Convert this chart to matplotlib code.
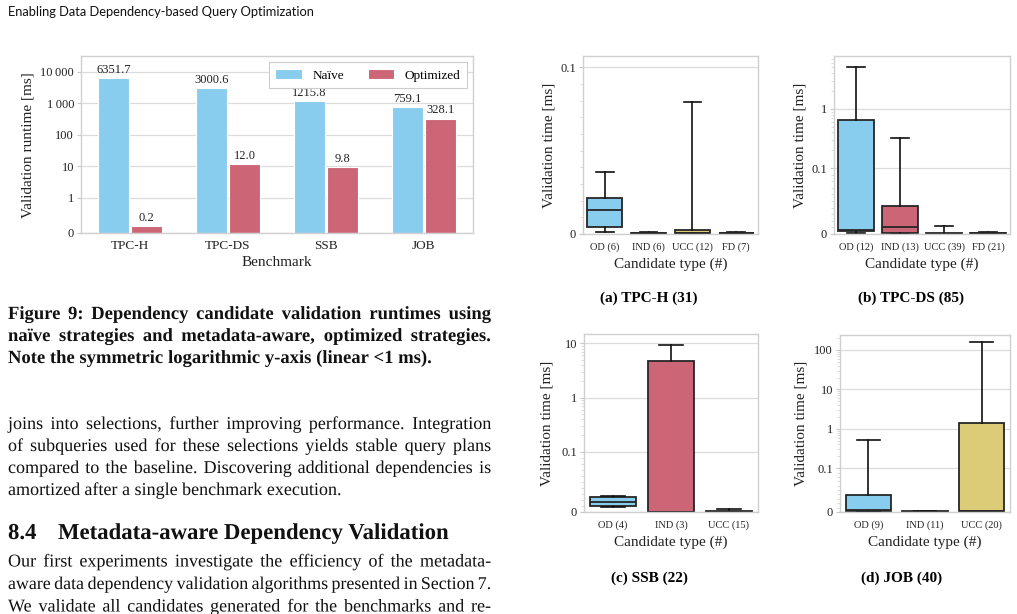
import numpy as np
import matplotlib
matplotlib.use('Agg')
import matplotlib.pyplot as plt
import matplotlib.patheffects as pe
from matplotlib.ticker import FixedLocator, FuncFormatter, NullFormatter

plt.rcParams['font.family'] = ['Liberation Serif', 'DejaVu Serif']

W, H = 1017, 614

# ---------------- data ----------------
benchmarks = ['TPC-H', 'TPC-DS', 'SSB', 'JOB']
naive_ms = [6351.7, 3000.6, 1215.8, 759.1]
optimized_ms = [0.2, 12.0, 9.8, 328.1]

tpch_labels = ['OD (6)', 'IND (6)', 'UCC (12)', 'FD (7)']
tpch_whislo = [0.0014, 0.0001, 0.0002, 0.0002]
tpch_q1 = [0.0042, 0.0002, 0.0004, 0.0003]
tpch_med = [0.0142, 0.0003, 0.0008, 0.0005]
tpch_q3 = [0.0215, 0.0005, 0.0024, 0.0008]
tpch_whishi = [0.0371, 0.0014, 0.0789, 0.0010]

tpcds_labels = ['OD (12)', 'IND (13)', 'UCC (39)', 'FD (21)']
tpcds_whislo = [0.002, 0.0005, 0.0002, 0.0002]
tpcds_q1 = [0.004, 0.001, 0.0004, 0.0004]
tpcds_med = [0.006, 0.011, 0.0006, 0.0008]
tpcds_q3 = [0.65, 0.042, 0.001, 0.0012]
tpcds_whishi = [5.05, 0.32, 0.0117, 0.0035]

ssb_labels = ['OD (4)', 'IND (3)', 'UCC (15)']
ssb_whislo = [0.008, 0.0002, 0.0002]
ssb_q1 = [0.0095, 0.0005, 0.0005]
ssb_med = [0.0173, 0.0007, 0.0007]
ssb_q3 = [0.025, 4.73, 0.001]
ssb_whishi = [0.027, 9.5, 0.0045]

job_labels = ['OD (9)', 'IND (11)', 'UCC (20)']
job_whislo = [0.001, 0.0003, 0.001]
job_q1 = [0.002, 0.0005, 0.002]
job_med = [0.004, 0.0008, 0.003]
job_q3 = [0.038, 0.0012, 1.4]
job_whishi = [0.52, 0.0018, 162.0]

type_colors = {'OD': '#88CCEE', 'IND': '#CC6677', 'UCC': '#DDCC77', 'FD': '#44AA99'}
naive_color = '#88CCEE'
opt_color = '#CC6677'

fig = plt.figure(figsize=(W / 100, H / 100), dpi=100)
fig.patch.set_facecolor('white')


def frac_rect(l, t, r, b):
    return [l / W, 1 - b / H, (r - l) / W, (b - t) / H]


def fx(x):
    return x / W


def fy(y):
    return 1 - y / H


def fmt_tick(v, pos):
    if abs(v) < 1e-12:
        return '0'
    if v >= 1000:
        return f'{int(round(v)):,}'.replace(',', '\u2009')
    if v >= 1:
        return f'{int(round(v))}'
    return f'{v:g}'


def style_axes(ax):
    for s in ax.spines.values():
        s.set_color('#d0d0d0')
        s.set_linewidth(1.0)
    ax.set_axisbelow(True)
    ax.yaxis.grid(True, color='#dcdcdc', linewidth=0.9)
    ax.xaxis.grid(False)
    ax.tick_params(axis='x', length=0)
    ax.tick_params(axis='y', which='major', length=3, color='#c8c8c8', width=0.8)
    ax.tick_params(axis='y', which='minor', length=2, color='#d6d6d6', width=0.6)
    ax.yaxis.set_major_formatter(FuncFormatter(fmt_tick))
    ax.yaxis.set_minor_formatter(NullFormatter())


def minor_symlog(lin, top):
    ticks = list(np.arange(1, 10) * lin / 10)
    dec = lin
    while dec < top:
        ticks += list(np.arange(2, 10) * dec)
        dec *= 10
    return [t for t in ticks if t < top]


# ---------------- bar chart ----------------
ax = fig.add_axes(frac_rect(81, 56, 473, 233))
ax.set_yscale('symlog', linthresh=1, linscale=1)
x = np.arange(len(benchmarks))
bw = 0.32
b1 = ax.bar(x - 0.17, naive_ms, bw, color=naive_color, edgecolor='white', linewidth=0.8, label='Naïve')
b2 = ax.bar(x + 0.17, optimized_ms, bw, color=opt_color, edgecolor='white', linewidth=0.8, label='Optimized')
for bars, vals in ((b1, naive_ms), (b2, optimized_ms)):
    for rect, v in zip(bars, vals):
        ax.annotate(f'{v:.1f}', (rect.get_x() + rect.get_width() / 2, v), xytext=(0, 1.5),
                    textcoords='offset points', ha='center', va='bottom', fontsize=9, color='#222222')
ax.set_xlim(-0.5, 3.5)
ax.set_ylim(0, 31500)
style_axes(ax)
ax.yaxis.set_major_locator(FixedLocator([0, 1, 10, 100, 1000, 10000]))
ax.yaxis.set_minor_locator(FixedLocator([]))
ax.set_xticks(x)
ax.set_xticklabels(benchmarks, fontsize=9.5, color='#222222')
ax.tick_params(axis='y', labelsize=9, labelcolor='#222222', pad=2)
ax.tick_params(axis='x', pad=5)
leg = ax.legend(loc='upper right', ncol=2, fontsize=9.5, frameon=True, fancybox=False,
                edgecolor='#cccccc', framealpha=1, handlelength=2.0, handleheight=0.9,
                handletextpad=0.8, columnspacing=1.8, borderpad=0.5, borderaxespad=0.45)
leg.get_frame().set_linewidth(0.8)
fig.text(fx(28), fy(145), 'Validation runtime [ms]', rotation=90, ha='center', va='center', fontsize=11, color='#222222')
fig.text(fx(277), fy(263), 'Benchmark', ha='center', va='center', fontsize=11, color='#222222')


# ---------------- box plots ----------------
def box_panel(rect, labels, whislo, q1, med, q3, whishi, ytop, ylab_x, xlab_y, sub_x, sub_y, subcap):
    ax = fig.add_axes(frac_rect(*rect))
    ax.set_yscale('symlog', linthresh=0.1, linscale=1)
    stats = [dict(whislo=a, q1=b, med=c, q3=d, whishi=e) for a, b, c, d, e in zip(whislo, q1, med, q3, whishi)]
    n = len(labels)
    lc = '#262626'
    bp = ax.bxp(stats, positions=list(range(n)), widths=0.8, patch_artist=True, showfliers=False,
                manage_ticks=False,
                boxprops=dict(edgecolor=lc, linewidth=1.3),
                medianprops=dict(color=lc, linewidth=1.3),
                whiskerprops=dict(color='#111111', linewidth=1.2),
                capprops=dict(color='#111111', linewidth=1.2))
    for patch, lab in zip(bp['boxes'], labels):
        patch.set_facecolor(type_colors[lab.split(' ')[0]])
    ax.set_xlim(-0.5, n - 0.5)
    ax.set_ylim(0, ytop)
    style_axes(ax)
    ax.yaxis.set_minor_locator(FixedLocator(minor_symlog(0.1, ytop)))
    ax.set_xticks(range(n))
    ax.set_xticklabels(labels, fontsize=7.5, color='#222222')
    ax.tick_params(axis='y', labelsize=9, labelcolor='#222222', pad=2)
    ax.tick_params(axis='x', pad=6)
    cy = (rect[1] + rect[3]) / 2
    cx = (rect[0] + rect[2]) / 2
    fig.text(fx(ylab_x), fy(cy), 'Validation time [ms]', rotation=90, ha='center', va='center',
             fontsize=11, color='#222222')
    fig.text(fx(cx), fy(xlab_y), 'Candidate type (#)', ha='center', va='center', fontsize=11, color='#222222')
    fig.text(fx(sub_x), fy(sub_y), subcap, ha='center', va='baseline', fontsize=11, fontweight='bold')
    return ax


box_panel((583, 56, 758, 234), tpch_labels, tpch_whislo, tpch_q1, tpch_med, tpch_q3, tpch_whishi,
          0.119, 549, 264, 649, 302, '(a) TPC-H (31)')
box_panel((834, 56, 1010, 234), tpcds_labels, tpcds_whislo, tpcds_q1, tpcds_med, tpcds_q3, tpcds_whishi,
          7.8, 800, 264, 911, 302, '(b) TPC-DS (85)')
box_panel((584, 334, 758, 512), ssb_labels, ssb_whislo, ssb_q1, ssb_med, ssb_q3, ssb_whishi,
          14.9, 547, 542, 649, 582, '(c) SSB (22)')
box_panel((840, 335, 1010, 512), job_labels, job_whislo, job_q1, job_med, job_q3, job_whishi,
          240, 801, 542, 902, 582, '(d) JOB (40)')

# ---------------- page text (one text per word, justified) ----------------
renderer = fig.canvas.get_renderer()
exact = [pe.Normal()]  # draw glyphs as exact outlines -> common baseline for all words


def put_line(text, yb, size, weight='normal', justify=True, x0=8, x1=491):
    words = text.split(' ')
    kw = dict(fontsize=size, fontweight=weight, va='baseline', ha='left', color='#111111')
    arts = [fig.text(0, 0, w, **kw) for w in words]
    ws = [a.get_window_extent(renderer).width for a in arts]
    em = size * 100 / 72
    natural = sum(ws) + 0.2 * em * (len(words) - 1)
    if natural > (x1 - x0):
        size = size * (x1 - x0) / natural
        for a in arts:
            a.set_fontsize(size)
        ws = [a.get_window_extent(renderer).width for a in arts]
        em = size * 100 / 72
    if justify and len(words) > 1:
        gap = (x1 - x0 - sum(ws)) / (len(words) - 1)
    else:
        gap = 0.25 * em
    xx = x0
    for a, w in zip(arts, ws):
        a.set_position((fx(xx), fy(yb)))
        a.set_path_effects(exact)
        xx += w + gap


hdr = fig.text(fx(8), fy(16), 'Enabling Data Dependency-based Query Optimization', family=['Lato', 'DejaVu Sans'],
               fontsize=9.3, va='baseline', ha='left', color='#111111')

caption = ['Figure 9: Dependency candidate validation runtimes using',
           'naïve strategies and metadata-aware, optimized strategies.',
           'Note the symmetric logarithmic y-axis (linear <1 ms).']
for i, (line, yb) in enumerate(zip(caption, [319, 341, 363])):
    put_line(line, yb, 13.4, weight='bold', justify=(i < 2))

body1 = ['joins into selections, further improving performance. Integration',
         'of subqueries used for these selections yields stable query plans',
         'compared to the baseline. Discovering additional dependencies is',
         'amortized after a single benchmark execution.']
for i, (line, yb) in enumerate(zip(body1, [429, 451, 473, 495])):
    put_line(line, yb, 13.0, justify=(i < 3))

put_line('8.4', 539, 16.4, weight='bold', justify=False)
put_line('Metadata-aware Dependency Validation', 539, 16.4, weight='bold', justify=False, x0=58)

body2 = ['Our first experiments investigate the efficiency of the metadata-',
         'aware data dependency validation algorithms presented in Section 7.',
         'We validate all candidates generated for the benchmarks and re-']
for line, yb in zip(body2, [566.5, 589, 611.5]):
    put_line(line, yb, 13.0, justify=True)

fig.savefig('out.png', dpi=100, facecolor='white')
